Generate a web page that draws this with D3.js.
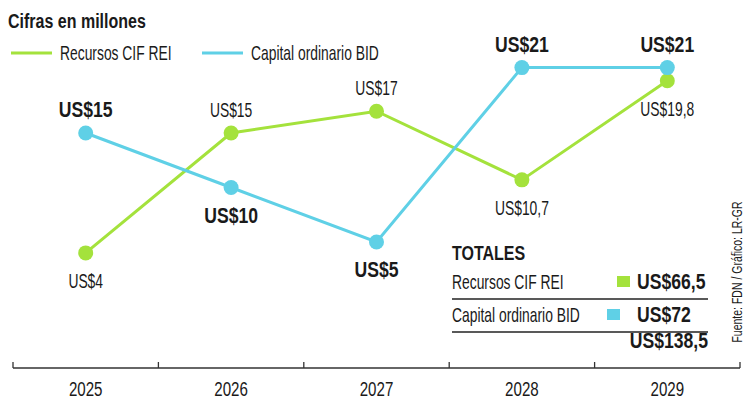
<!DOCTYPE html>
<html>
<head>
<meta charset="utf-8">
<script src="https://cdn.jsdelivr.net/npm/d3@7"></script>
<style>
  body { margin: 0; background: #fff; }
  text { font-family: "Liberation Sans", Arial, sans-serif; fill: #1a1a1a; }
</style>
</head>
<body>
<div id="chart"></div>
<script>
var years = ['2025', '2026', '2027', '2028', '2029'];
var cifValues = [4, 15, 17, 10.7, 19.8];
var bidValues = [15, 10, 5, 21, 21];
var seriesNames = ['Recursos CIF REI', 'Capital ordinario BID'];

var width = 746;
var height = 400;
var green = '#a4e23c';
var cyan = '#5fd0e6';
// condensed look: squeeze the sans horizontally (regular is narrower than bold)
var narrowReg = 0.66;
var narrowBold = 0.8;

var locale = d3.formatLocale({ decimal: ',', thousands: '.', grouping: [3], currency: ['US$', ''] });
var money = locale.format('$.1~f');

var svg = d3.select('#chart')
  .append('svg')
  .attr('width', width)
  .attr('height', height);

function label(px, py, str, size, bold, anchor) {
  var k = bold ? narrowBold : narrowReg;
  return svg.append('text')
    .attr('transform', 'translate(' + px + ',' + py + ') scale(' + k + ',1)')
    .attr('text-anchor', anchor || 'start')
    .attr('font-size', size)
    .attr('font-weight', bold ? 'bold' : 'normal')
    .text(str);
}

var x = d3.scaleBand()
  .domain(years)
  .range([13, 740]);

var y = d3.scaleLinear()
  .domain([0, 21])
  .range([296.5, 67.6]);

var cx = function(d) { return x(d) + x.bandwidth() / 2; };

// title + legend
label(8, 28, 'Cifras en millones', 20, true);

var legend = [
  { name: seriesNames[0], color: green, x: 11 },
  { name: seriesNames[1], color: cyan, x: 202 }
];
legend.forEach(function(l) {
  svg.append('line')
    .attr('x1', l.x).attr('x2', l.x + 41)
    .attr('y1', 53).attr('y2', 53)
    .attr('stroke', l.color).attr('stroke-width', 3);
  label(l.x + 49, 60, l.name, 21, false);
});

// axis: baseline with ticks at band edges, year labels at centres
var axisY = 368;
svg.append('line')
  .attr('x1', x.range()[0]).attr('x2', x.range()[1])
  .attr('y1', axisY).attr('y2', axisY)
  .attr('stroke', '#333').attr('stroke-width', 1.3);

var edges = years.map(function(d) { return x(d); }).concat([x.range()[1]]);
svg.selectAll('.edge')
  .data(edges)
  .enter()
  .append('line')
  .attr('x1', function(d) { return d; }).attr('x2', function(d) { return d; })
  .attr('y1', axisY - 6).attr('y2', axisY)
  .attr('stroke', '#333').attr('stroke-width', 1.3);

var axis = svg.append('g')
  .attr('transform', 'translate(0,' + axisY + ')')
  .call(d3.axisBottom(x).tickSize(0));
axis.select('.domain').remove();
axis.selectAll('text')
  .attr('y', 28)
  .attr('dy', 0)
  .attr('font-size', 21)
  .attr('font-family', null)
  .attr('transform', 'scale(0.72,1)');

// series
var series = [
  { values: cifValues, other: bidValues, color: green, bold: false },
  { values: bidValues, other: cifValues, color: cyan, bold: true }
];

var line = d3.line()
  .x(function(d) { return cx(d.year); })
  .y(function(d) { return y(d.value); });

series.forEach(function(s) {
  var pts = years.map(function(yr, i) {
    return { year: yr, value: s.values[i], above: s.values[i] > s.other[i] };
  });

  svg.append('path')
    .datum(pts)
    .attr('d', line)
    .attr('fill', 'none')
    .attr('stroke', s.color)
    .attr('stroke-width', 3);

  svg.selectAll(null)
    .data(pts)
    .enter()
    .append('circle')
    .attr('cx', function(d) { return cx(d.year); })
    .attr('cy', function(d) { return y(d.value); })
    .attr('r', 7.5)
    .attr('fill', s.color);

  pts.forEach(function(d) {
    label(cx(d.year), y(d.value) + (d.above ? -16 : 35), money(d.value),
      s.bold ? 22 : 21, s.bold, 'middle');
  });
});

// totals box
var cifTotal = d3.sum(cifValues);
var bidTotal = d3.sum(bidValues);

label(452, 260, 'TOTALES', 20, true);

var rows = [
  { name: seriesNames[0], color: green, total: cifTotal, y: 289, sq: 617 },
  { name: seriesNames[1], color: cyan, total: bidTotal, y: 322, sq: 607 }
];
rows.forEach(function(r) {
  label(452, r.y, r.name, 21, false);
  svg.append('rect')
    .attr('x', r.sq).attr('y', r.y - 13)
    .attr('width', 13).attr('height', 11)
    .attr('fill', r.color);
  label(637, r.y, money(r.total), 22, true);
  svg.append('line')
    .attr('x1', 452).attr('x2', 708)
    .attr('y1', r.y + 10).attr('y2', r.y + 10)
    .attr('stroke', '#222').attr('stroke-width', 1.3);
});

label(708, 348, money(cifTotal + bidTotal), 22, true, 'end');

svg.append('text')
  .attr('transform', 'translate(742,272) rotate(-90) scale(0.7,1)')
  .attr('text-anchor', 'middle')
  .attr('font-size', 15)
  .text('Fuente: FDN / Gráfico: LR-GR');
</script>
</body>
</html>
